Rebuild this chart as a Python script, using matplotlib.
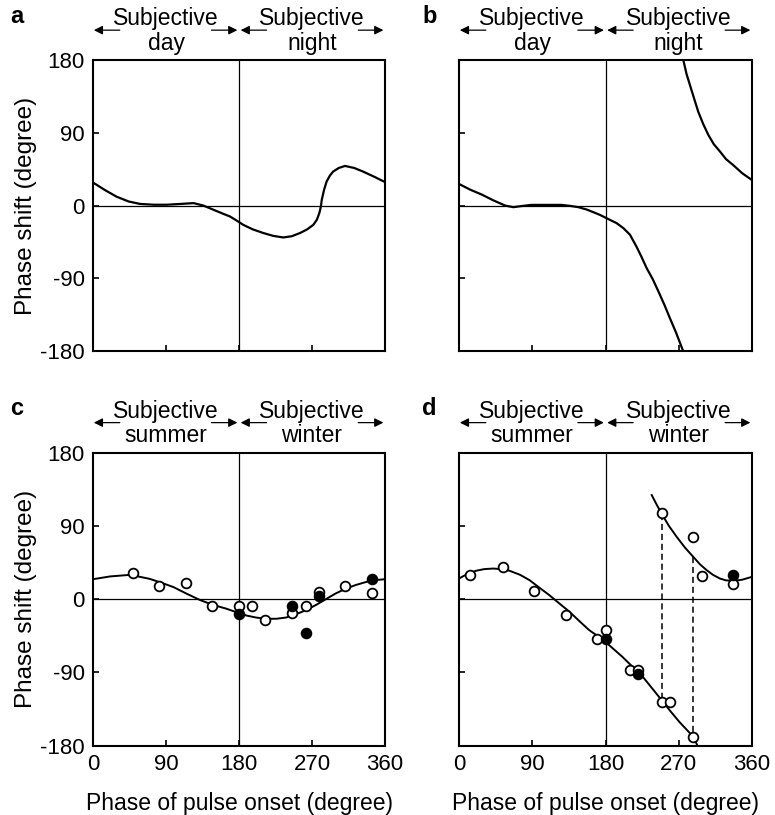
import numpy as np
import matplotlib
matplotlib.use("Agg")
import matplotlib.pyplot as plt

plt.rcParams['font.family'] = ['Liberation Sans', 'DejaVu Sans']
plt.rcParams['axes.unicode_minus'] = False

# panel a: PRC curve
a_x = [0, 15, 29, 44, 58, 75, 91, 108, 124, 136, 148, 160, 169, 177, 185.3, 197, 210, 222, 234.6, 245, 255.2, 264, 271.6, 276, 279, 281, 282, 285, 288, 292, 296, 303, 310.7, 322, 333, 347, 360]
a_y = [28.5, 19, 11, 5, 2, 1, 1, 2, 3, 0, -5, -10, -13.6, -18.5, -23.9, -29.5, -34, -37.5, -39.5, -38, -34, -29.5, -23.9, -17.5, -9.4, -1, 7, 20, 29.7, 37, 42, 46.5, 49, 46.5, 42, 35.5, 29]

# panel b: two branches
b1_x = [0, 14, 27.9, 42, 56.5, 66.7, 78, 89, 108, 126, 137, 146.6, 157, 167, 173, 180, 186, 193.7, 202, 210, 218, 224, 230.6, 238, 244.9, 252, 259, 267, 274.8]
b1_y = [26.7, 19.5, 13.6, 6.5, 0, -2, -0.5, 0.8, 0.8, 0.8, -0.5, -2, -5, -9, -11.5, -15, -18, -21.8, -28, -36, -50.7, -63, -77.5, -91, -106, -122, -139, -158, -178.5]
b2_x = [275.6, 279.5, 283.8, 289, 294, 300, 306.3, 313, 320.7, 328, 337, 348, 359.6]
b2_y = [180.2, 163, 149, 132, 116, 101, 87.5, 76, 66.8, 57.5, 50, 40, 31.8]

# panel c
c_x = [0, 21, 46, 70, 85, 99, 115, 132, 148, 164, 177, 189, 201, 213.5, 226, 238, 250, 262.6, 275, 287, 299, 311.7, 324, 336, 348, 360]
c_y = [24.6, 28, 30, 25, 20, 15, 7, -1, -7, -11.5, -16, -20, -22.5, -24, -24, -22.5, -18.5, -13.5, -7, 0, 7, 13, 17.5, 21, 23.5, 24.6]
c_open_x = [48.7, 81.8, 115, 147, 180, 196, 212, 245.5, 262, 278, 311, 343.6]
c_open_y = [32.4, 16.4, 20, -8, -8, -8, -25.4, -16.4, -8, 9, 16.4, 7.8]
c_fill_x = [180, 245.5, 262, 278, 343.6]
c_fill_y = [-17.6, -8, -41, 4, 24.6]

# panel d
d1_x = [0, 10, 21, 31, 42, 52, 62, 75, 86.7, 99, 111, 123, 136, 148, 160, 170, 180, 201, 226, 249, 259.3, 271, 287.9, 292.8]
d1_y = [25.4, 31, 35, 37, 37.7, 37, 35, 30, 23.4, 14, 5, -5, -15.6, -27, -38, -45, -52.5, -71, -95.5, -124, -137, -151, -169, -179.5]
d2_x = [236.8, 243, 249, 258, 267.5, 278, 287.9, 296, 304.3, 312, 320.7, 328, 337, 348, 359.6]
d2_y = [127.9, 116, 105, 90, 76.6, 63, 52, 43, 35.7, 30, 25.4, 23.2, 22.5, 24, 27.4]
d_open_x = [14, 54, 92, 132, 170, 180.6, 210, 220.3, 249, 249, 259.3, 287.9, 298.2, 287.9, 336.3]
d_open_y = [29.5, 39, 9.8, -19.7, -49, -38, -87.3, -87.3, 105.9, -126, -126, 76, 28.7, -169, 19.3]
d_fill_x = [180.6, 220.3, 336.3]
d_fill_y = [-48.3, -92.2, 29.5]
d_dash_x = [249, 287.9]
d_dash_top = [105, 52.5]
d_dash_bot = [-126, -169]

ticks = [0, 90, 180, 270, 360]
yticks = [-180, -90, 0, 90, 180]
headers = [("day", "night"), ("day", "night"), ("summer", "winter"), ("summer", "winter")]
letters = ["a", "b", "c", "d"]

fig = plt.figure(figsize=(7.75, 8.15), dpi=100)
pos = [[0.12, 0.5693, 0.3768, 0.357], [0.5923, 0.5693, 0.378, 0.357],
       [0.12, 0.085, 0.3768, 0.3595], [0.5923, 0.085, 0.378, 0.3595]]
axes = [fig.add_axes(p) for p in pos]

for i, ax in enumerate(axes):
    ax.set_xlim(0, 360)
    ax.set_ylim(-180, 180)
    ax.axhline(0, color='k', lw=0.9, zorder=1)
    ax.axvline(180, color='k', lw=0.9, zorder=1)
    for s in ax.spines.values():
        s.set_linewidth(1.5)
    ax.set_xticks(ticks)
    ax.set_yticks(yticks)
    ax.tick_params(direction='in', length=4, width=1.2, labelsize=16, pad=6)
    if i in (0, 2):
        ax.set_ylabel("Phase shift (degree)", fontsize=17.5, labelpad=2)
    else:
        ax.set_yticklabels([])
    if i in (2, 3):
        ax.set_xlabel("Phase of pulse onset (degree)", fontsize=16.5, labelpad=12)
    else:
        ax.set_xticklabels([])
    # header arrows and text
    h1, h2 = headers[i]
    for (x0, x1) in [(33, 1), (146, 178), (214, 182), (327, 358)]:
        ax.annotate('', xy=(x1, 217), xytext=(x0, 217), annotation_clip=False,
                    arrowprops=dict(arrowstyle='-|>', color='k', lw=0.9, mutation_scale=13,
                                    shrinkA=0, shrinkB=0))
    ax.text(90, 223, "Subjective", ha='center', va='baseline', fontsize=16.5, clip_on=False)
    ax.text(270, 223, "Subjective", ha='center', va='baseline', fontsize=16.5, clip_on=False)
    ax.text(90, 193, h1, ha='center', va='baseline', fontsize=16.5, clip_on=False)
    ax.text(270, 193, h2, ha='center', va='baseline', fontsize=16.5, clip_on=False)
    ax.text(-0.26 if i in (0, 2) else -0.1, 1.15, letters[i], transform=ax.transAxes,
            fontsize=17, fontweight='bold', ha='center', va='center')

axes[0].plot(a_x, a_y, color='k', lw=1.6)
axes[1].plot(b1_x, b1_y, color='k', lw=1.6)
axes[1].plot(b2_x, b2_y, color='k', lw=1.6)

axes[2].plot(c_x, c_y, color='k', lw=1.4)
axes[2].plot(c_open_x, c_open_y, 'o', ms=7, mfc='white', mec='k', mew=1.3, clip_on=False)
axes[2].plot(c_fill_x, c_fill_y, 'o', ms=7, mfc='k', mec='k', mew=1.3, clip_on=False)

axes[3].plot(d1_x, d1_y, color='k', lw=1.4)
axes[3].plot(d2_x, d2_y, color='k', lw=1.4)
for x, t, b in zip(d_dash_x, d_dash_top, d_dash_bot):
    axes[3].plot([x, x], [t, b], color='k', lw=1.1, ls=(0, (4, 2.5)))
axes[3].plot(d_open_x, d_open_y, 'o', ms=7, mfc='white', mec='k', mew=1.3, clip_on=False, zorder=3)
axes[3].plot(d_fill_x, d_fill_y, 'o', ms=7, mfc='k', mec='k', mew=1.3, clip_on=False, zorder=4)

fig.savefig("out.png", dpi=100)
